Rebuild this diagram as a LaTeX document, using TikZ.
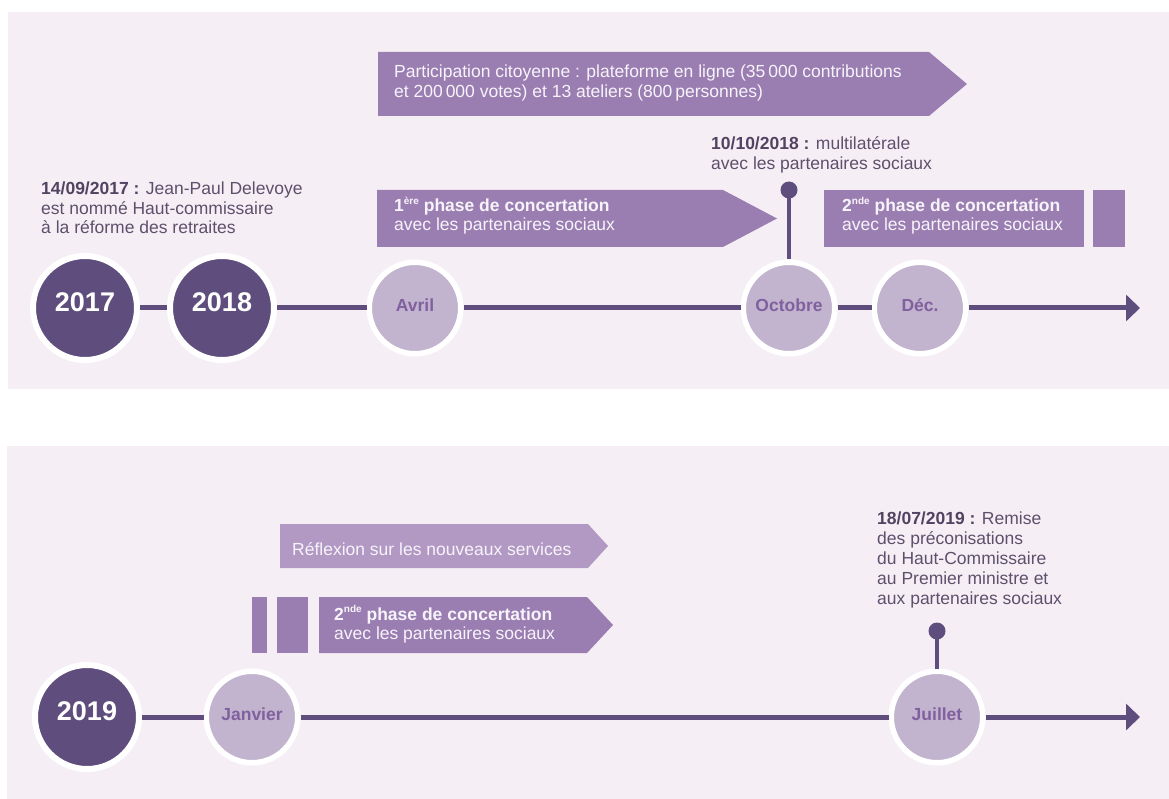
\documentclass[tikz,border=0pt]{standalone}
\usepackage{fontspec}
\setmainfont{Liberation Sans}
\usetikzlibrary{arrows.meta}
\definecolor{panelbg}{RGB}{245,239,245}
\definecolor{darkc}{RGB}{94,77,125}
\definecolor{lightc}{RGB}{194,180,206}
\definecolor{monthtxt}{RGB}{128,96,158}
\definecolor{bannerc}{RGB}{154,126,177}
\definecolor{reflc}{RGB}{178,153,196}
\definecolor{bantext}{RGB}{247,243,250}
\definecolor{labtxt}{RGB}{92,80,108}
\definecolor{labbold}{RGB}{80,68,98}
\newcommand{\mysup}[1]{\raisebox{0.42em}{\fontsize{10}{10}\selectfont #1}}
\begin{document}
\begin{tikzpicture}[x=1pt,y=-1pt,
  yearc/.style={circle,fill=darkc,draw=white,line width=6pt,minimum size=104pt,inner sep=0pt,
    text=white,font=\fontsize{27}{27}\selectfont\bfseries,text height=0.716em,text depth=0pt},
  monthc/.style={circle,fill=lightc,draw=white,line width=5.5pt,minimum size=91.5pt,inner sep=0pt,
    text=monthtxt,font=\fontsize{17.5}{17.5}\selectfont\bfseries,text height=0.716em,text depth=0pt},
  conn/.style={draw=darkc,line width=5pt},
  stick/.style={draw=darkc,line width=4pt},
  pindot/.style={circle,fill=darkc,minimum size=17pt,inner sep=0pt},
  bantxt/.style={inner sep=0pt,anchor=base west,text=bantext,font=\fontsize{17.5}{20}\selectfont},
  labl/.style={inner sep=0pt,anchor=base west,text=labtxt,font=\fontsize{17.5}{20}\selectfont},
]
\useasboundingbox (0,0) rectangle (1169,799);
\fill[white] (0,0) rectangle (1169,799);
% panels
\fill[panelbg] (8,12) rectangle (1169,389);
\fill[panelbg] (7,446) rectangle (1169,799);

% ---------- top banners
\fill[bannerc] (378,52) -- (929,52) -- (967,84) -- (929,116) -- (378,116) -- cycle;
\fill[bannerc] (377,190) -- (723,190) -- (777,218.5) -- (723,247) -- (377,247) -- cycle;
\fill[bannerc] (824,190) rectangle (1084,247);
\fill[bannerc] (1093,190) rectangle (1125,247);

\node[bantxt] (p1) at (394,78) {Participation citoyenne : plateforme en ligne (35\,000 contributions};
\node[bantxt] (p2) at (394,97.5) {et 200\,000 votes) et 13 ateliers (800\,personnes)};
\node[bantxt] (a1) at (394,212) {\bfseries 1\mysup{ère} phase de concertation};
\node[bantxt] (a2) at (394,231) {avec les partenaires sociaux};
\node[bantxt] (b1) at (842,212) {\bfseries 2\mysup{nde} phase de concertation};
\node[bantxt] (b2) at (842,231) {avec les partenaires sociaux};

% ---------- top labels
\node[labl] (l1) at (41,195) {\textcolor{labbold}{\bfseries 14/09/2017 :} Jean-Paul Delevoye};
\node[labl] (l2) at (41,214.5) {est nommé Haut-commissaire};
\node[labl] (l3) at (41,234) {à la réforme des retraites};
\node[labl] (m1) at (711,150) {\textcolor{labbold}{\bfseries 10/10/2018 :} multilatérale};
\node[labl] (m2) at (711,169.5) {avec les partenaires sociaux};

% ---------- top timeline
\node[yearc] (y2017) at (85,308) {2017};
\node[yearc] (y2018) at (222,308) {2018};
\node[monthc] (avr) at (415,308) {Avril};
\node[monthc] (oct) at (789,308) {Octobre};
\node[monthc] (dec) at (920,308) {Déc.};
\coordinate (endT) at (1140,308);
\draw[conn] (y2017) -- (y2018);
\draw[conn] (y2018) -- (avr);
\draw[conn] (avr) -- (oct);
\draw[conn] (oct) -- (dec);
\draw[conn,-{Triangle[length=14pt,width=26pt]}] (dec) -- (endT);
\node[pindot] (pinO) at (789,190) {};
\draw[stick] (pinO.center) -- (oct);

% ---------- bottom banners
\fill[reflc] (280,524) -- (588,524) -- (608,546) -- (588,568) -- (280,568) -- cycle;
\fill[bannerc] (252,597) rectangle (267,653);
\fill[bannerc] (277,597) rectangle (308,653);
\fill[bannerc] (319,597) -- (587,597) -- (613,625) -- (587,653) -- (319,653) -- cycle;
\node[bantxt] (r1) at (292,555) {Réflexion sur les nouveaux services};
\node[bantxt] (c1) at (334,620) {\bfseries 2\mysup{nde} phase de concertation};
\node[bantxt] (c2) at (334,639) {avec les partenaires sociaux};

% ---------- bottom labels
\node[labl] (j1) at (877,524) {\textcolor{labbold}{\bfseries 18/07/2019 :} Remise};
\node[labl] (j2) at (877,544) {des préconisations};
\node[labl] (j3) at (877,564) {du Haut-Commissaire};
\node[labl] (j4) at (877,584) {au Premier ministre et};
\node[labl] (j5) at (877,604) {aux partenaires sociaux};

% ---------- bottom timeline
\node[yearc] (y2019) at (87,717) {2019};
\node[monthc] (jan) at (252,717) {Janvier};
\node[monthc] (jul) at (937,717) {Juillet};
\coordinate (endB) at (1140,717);
\draw[conn] (y2019) -- (jan);
\draw[conn] (jan) -- (jul);
\draw[conn,-{Triangle[length=14pt,width=26pt]}] (jul) -- (endB);
\node[pindot] (pinJ) at (937,631) {};
\draw[stick] (pinJ.center) -- (jul);
\end{tikzpicture}
\end{document}
